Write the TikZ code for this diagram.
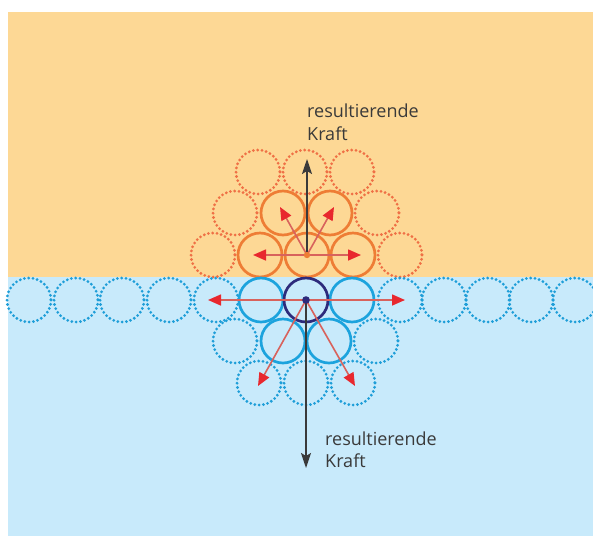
\documentclass[tikz,border=0pt]{standalone}
\usepackage{fontspec}
\setmainfont{Open Sans}
\usetikzlibrary{arrows.meta}
\definecolor{bgorange}{HTML}{FDD895}
\definecolor{bgblue}{HTML}{C8EAFB}
\definecolor{orangeline}{HTML}{EE7D35}
\definecolor{orangedot}{HTML}{EF7045}
\definecolor{blueline}{HTML}{1CA3DD}
\definecolor{darkblue}{HTML}{2D2B7C}
\definecolor{bluedot}{HTML}{1E9ED8}
\definecolor{arrowline}{HTML}{D8625C}
\definecolor{arrowhead}{HTML}{E8282E}
\definecolor{forcegray}{HTML}{3A3A3A}
\tikzset{
  solidring/.style={line width=2.7pt},
  dotring/.style={line width=3.1pt, line cap=round, dash pattern=on 0pt off 4.3pt},
  redarrow/.style={draw=arrowline, line width=1.6pt,
    -{Triangle[length=13pt,width=11pt,color=arrowhead]}},
  forcearrow/.style={draw=forcegray, line width=1.6pt,
    -{Stealth[length=15pt,width=10pt,inset=3pt]}},
  label/.style={text=forcegray, font=\fontsize{18}{23}\selectfont, inner sep=0pt, anchor=base west}
}
\begin{document}
\begin{tikzpicture}[x=1pt,y=-1pt]
\useasboundingbox (0,0) rectangle (593,536);
\fill[white] (0,0) rectangle (593,536);
\fill[bgorange] (8,12) rectangle (593,277);
\fill[bgblue] (8,277) rectangle (593,536);

% orange (upper) particles
\foreach \x/\y in {213/255, 400/255, 235/213, 377/213, 258/172, 305/172, 352/172}
  \draw[orangedot, dotring] (\x,\y) circle (22);
\foreach \x/\y in {260/255, 307/255, 353/255, 283/213, 330/213}
  \draw[orangeline, solidring] (\x,\y) circle (22);

% blue (lower) particles
\foreach \x in {29, 76, 122, 169, 216, 400, 444, 488, 531, 575}
  \draw[bluedot, dotring] (\x,300) circle (22);
\foreach \x/\y in {235/341, 376/341, 259/383, 306/383, 353/383}
  \draw[bluedot, dotring] (\x,\y) circle (22);
\foreach \x/\y in {261/300, 352/300, 283/341, 329/341}
  \draw[blueline, solidring] (\x,\y) circle (22);
\draw[darkblue, solidring] (306,300) circle (22);

% centres and arrow ends
\coordinate (O) at (307,255);
\coordinate (B) at (306,300);
\coordinate (oL) at (253,255);
\coordinate (oR) at (361,255);
\coordinate (oUL) at (280,207);
\coordinate (oUR) at (334,207);
\coordinate (oUp) at (307,159);
\coordinate (bL) at (208,300);
\coordinate (bR) at (405,300);
\coordinate (bDL) at (258,386);
\coordinate (bDR) at (355,386);
\coordinate (bDown) at (306,468);

\draw[forcearrow] (O) -- (oUp);
\draw[forcearrow] (B) -- (bDown);
\foreach \t in {oL, oR, oUL, oUR}
  \draw[redarrow] (O) -- (\t);
\foreach \t in {bL, bR, bDL, bDR}
  \draw[redarrow] (B) -- (\t);
\fill[orangeline] (O) circle (3.2);
\fill[darkblue] (B) circle (3.8);

\node[label] (t1) at (307,117) {resultierende};
\node[label] (t2) at (307,140) {Kraft};
\node[label] (b1) at (325,445) {resultierende};
\node[label] (b2) at (325,467) {Kraft};
\end{tikzpicture}
\end{document}
